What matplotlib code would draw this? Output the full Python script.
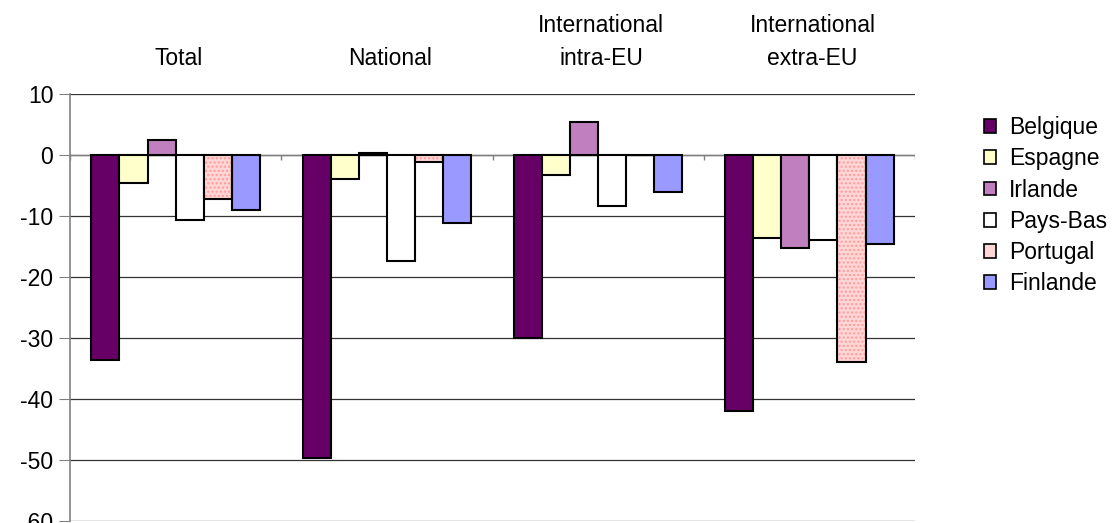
import matplotlib
matplotlib.use("Agg")
import matplotlib.pyplot as plt
import matplotlib.patches as mpatches
import numpy as np

plt.rcParams['font.family'] = ['Liberation Sans', 'DejaVu Sans']

categories = ["Total", "National", "International\nintra-EU", "International\nextra-EU"]
countries = ["Belgique", "Espagne", "Irlande", "Pays-Bas", "Portugal", "Finlande"]
values = {
    "Belgique": [-33.6, -49.7, -30.0, -42.0],
    "Espagne":  [-4.6, -3.9, -3.3, -13.6],
    "Irlande":  [2.5, 0.3, 5.4, -15.3],
    "Pays-Bas": [-10.7, -17.4, -8.3, -14.0],
    "Portugal": [-7.2, -1.1, 0.0, -34.0],
    "Finlande": [-9.0, -11.1, -6.1, -14.6],
}
yticks = [10, 0, -10, -20, -30, -40, -50, -60]

colors = {
    "Belgique": "#660066",
    "Espagne": "#FFFFCC",
    "Irlande": "#C080C0",
    "Pays-Bas": "#FFFFFF",
    "Portugal": "#FFD6D6",
    "Finlande": "#9999FF",
}

FS = 16.5

fig = plt.figure(figsize=(11.19, 5.23), dpi=100)
ax = fig.add_axes([70/1119, 1-521/523, (915-70)/1119, (521-94)/523])

x = np.arange(len(categories))
w = 0.133
for j, c in enumerate(countries):
    xs = x + (j - 2.5) * w
    if c == "Portugal":
        ax.bar(xs, values[c], w, color=colors[c], edgecolor="#FF9999", hatch="....",
               linewidth=0, zorder=3)
        ax.bar(xs, values[c], w, facecolor="none", edgecolor="black", linewidth=1.5, zorder=4)
    else:
        ax.bar(xs, values[c], w, color=colors[c], edgecolor="black", linewidth=1.5, zorder=3)

ax.set_xlim(-0.5, len(categories) - 0.5)
ax.set_ylim(-60, 10)
ax.set_yticks(yticks)
ax.set_yticklabels([str(t) for t in yticks], fontsize=FS)
ax.yaxis.grid(True, color="#333333", linewidth=0.9, zorder=0)
ax.set_axisbelow(True)
ax.set_xticks([])
for s in ["top", "right", "bottom"]:
    ax.spines[s].set_visible(False)
ax.spines["left"].set_color("#808080")
ax.spines["left"].set_linewidth(1.2)
ax.tick_params(axis="y", direction="out", length=8, color="#808080", pad=4)

# category axis at zero with boundary ticks
ax.axhline(0, color="#808080", linewidth=1.0, zorder=2)
ax.vlines(np.arange(len(categories) + 1) - 0.5, -0.9, 0, color="#808080", linewidth=1.0, zorder=2)

for i, cat in enumerate(categories):
    ax.text(i + 0.015, 1.056, cat, transform=ax.get_xaxis_transform(),
            ha="center", va="bottom", fontsize=FS, linespacing=1.55)

handles = [mpatches.Patch(facecolor=colors[c], edgecolor="black", linewidth=1.2) for c in countries]
leg = fig.legend(handles, countries, loc="upper left", bbox_to_anchor=(0.879, 0.778),
                 frameon=False, fontsize=FS, handlelength=0.55, handleheight=0.55,
                 handletextpad=0.55, labelspacing=0.36, borderpad=0, borderaxespad=0)

fig.savefig("out.png", dpi=100)
